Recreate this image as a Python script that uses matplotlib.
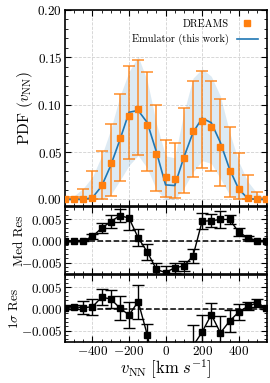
import numpy as np
import matplotlib
matplotlib.use('Agg')
import matplotlib.pyplot as plt
from matplotlib.ticker import MultipleLocator

# ---------------- data ----------------
v_nn = [-550, -500, -450, -400, -350, -300, -250, -200, -150, -100, -50, 0,
        50, 100, 150, 200, 250, 300, 350, 400, 450, 500, 550]

dreams = [0.0, 0.0003, 0.0005, 0.002, 0.015, 0.038, 0.0645, 0.0876, 0.096,
          0.0785, 0.048, 0.0235, 0.0217, 0.0438, 0.0725, 0.0823, 0.076,
          0.0557, 0.0305, 0.011, 0.002, 0.0005, 0.0]
dreams_lo = [0.0, 0.0, 0.0, 0.0, 0.0, 0.004, 0.020, 0.043, 0.047, 0.030,
             0.009, 0.0025, 0.002, 0.007, 0.0236, 0.033, 0.030, 0.014,
             0.0025, 0.0, 0.0, 0.0, 0.0]
dreams_hi = [0.0, 0.0025, 0.011, 0.0296, 0.0507, 0.080, 0.111, 0.1412, 0.147,
             0.135, 0.100, 0.063, 0.060, 0.097, 0.125, 0.136, 0.125, 0.106,
             0.077, 0.049, 0.026, 0.0077, 0.002]

emu_med = [0.0, 0.0, 0.0, 0.002, 0.014, 0.036, 0.063, 0.092, 0.094, 0.081,
           0.050, 0.0154, 0.0147, 0.0445, 0.0707, 0.0858, 0.081, 0.060,
           0.032, 0.011, 0.001, 0.0, 0.0]
emu_lo = [0.0, 0.0, 0.0, 0.0, 0.0, 0.005, 0.020, 0.036, 0.0465, 0.033,
          0.010, 0.0, 0.0, 0.012, 0.029, 0.041, 0.038, 0.022, 0.005, 0.0,
          0.0, 0.0, 0.0]
emu_hi = [0.001, 0.004, 0.012, 0.024, 0.046, 0.074, 0.109, 0.135, 0.151,
          0.125, 0.080, 0.046, 0.044, 0.092, 0.128, 0.138, 0.130, 0.109,
          0.071, 0.040, 0.019, 0.0066, 0.002]

med_res = [0.0, 0.0, 0.0, 0.001, 0.0029, 0.0044, 0.0058, 0.0052, 0.0007,
           -0.0026, -0.0066, -0.0073, -0.0062, -0.0058, -0.0035, 0.0045,
           0.0046, 0.0049, 0.0049, 0.002, 0.0007, 0.0, 0.0]
med_res_err = [0.0, 0.0, 0.0001, 0.0005, 0.0012, 0.0015, 0.0015, 0.0027,
               0.002, 0.0018, 0.0016, 0.0015, 0.0012, 0.0011, 0.0017, 0.0018,
               0.0015, 0.002, 0.0011, 0.001, 0.0003, 0.0001, 0.0]

sig_res = [0.0003, 0.0005, 0.0003, 0.0005, 0.0027, 0.0023, 0.0002, -0.0014,
           0.0017, -0.006, -0.016, -0.022, -0.022, -0.016, -0.0085, -0.0053,
           -0.0013, -0.0055, -0.0028, -0.0007, 0.0006, 0.0014, 0.0003]
sig_res_err = [0.0003, 0.0005, 0.0015, 0.0019, 0.0018, 0.002, 0.0027, 0.0029,
               0.0039, 0.0026, 0.003, 0.003, 0.003, 0.003, 0.0048, 0.004,
               0.0026, 0.0038, 0.0025, 0.0018, 0.0009, 0.001, 0.0003]

x_ticks = [-400, -200, 0, 200, 400]

# ---------------- style ----------------
plt.rcParams.update({
    'font.family': 'serif', 'font.serif': ['cmr10'],
    'mathtext.fontset': 'cm', 'axes.formatter.use_mathtext': True,
    'xtick.direction': 'in', 'ytick.direction': 'in',
    'xtick.top': True, 'ytick.right': True,
    'xtick.major.size': 4, 'ytick.major.size': 4,
    'xtick.minor.size': 2, 'ytick.minor.size': 2,
    'xtick.major.pad': 2, 'ytick.major.pad': 2,
    'axes.linewidth': 1.2,
    'xtick.labelsize': 9.5, 'ytick.labelsize': 9.5,
})

ORANGE = '#ff7f0e'
BLUE = '#1f77b4'

x = np.array(v_nn, dtype=float)
d = np.array(dreams)
fig = plt.figure(figsize=(2.70, 3.83), dpi=100)
gs = fig.add_gridspec(3, 1, height_ratios=[197, 67, 67], hspace=0.015,
                      left=0.241, right=0.989, top=0.974, bottom=0.107)
ax0 = fig.add_subplot(gs[0])
ax1 = fig.add_subplot(gs[1], sharex=ax0)
ax2 = fig.add_subplot(gs[2], sharex=ax0)

# main panel
ax0.fill_between(x, emu_lo, emu_hi, color=BLUE, alpha=0.15, lw=0, zorder=1)
ax0.errorbar(x, d, yerr=[d - np.array(dreams_lo), np.array(dreams_hi) - d],
             fmt='none', ecolor=ORANGE, alpha=0.75, elinewidth=1.3,
             capsize=4, capthick=1.3, zorder=2)
ax0.plot(x, d, 's', color=ORANGE, ms=5, zorder=4, label='DREAMS')
ax0.plot(x, emu_med, '-', color=BLUE, lw=1.2, zorder=3,
         label='Emulator (this work)')
ax0.set_ylim(-0.0065, 0.20)
ax0.set_ylabel(r'PDF $(v_{\rm NN})$', fontsize=11)
ax0.yaxis.set_label_coords(-0.15, 0.5)
ax0.yaxis.set_major_locator(MultipleLocator(0.05))
ax0.yaxis.set_minor_locator(MultipleLocator(0.01))
ax0.legend(loc='upper right', frameon=False, markerfirst=False,
           fontsize=7.5, handlelength=2.0, borderaxespad=0.5)

# residual panels
for ax, vals, errs, lab, lx in [(ax1, med_res, med_res_err, 'Med Res', -0.195),
                                (ax2, sig_res, sig_res_err, r'$1\sigma$ Res', -0.22)]:
    ax.axhline(0, color='k', ls='--', lw=1.1, zorder=1)
    ax.errorbar(x, vals, yerr=errs, fmt='s-', color='k', ms=4, lw=1.0,
                elinewidth=1.0, capsize=4, capthick=1.0, zorder=3)
    ax.set_ylim(-0.0076, 0.0077)
    ax.yaxis.set_major_locator(MultipleLocator(0.005))
    ax.yaxis.set_minor_locator(MultipleLocator(0.001))
    ax.set_ylabel(lab, fontsize=9.5)
    ax.yaxis.set_label_coords(lx, 0.5)

for ax in (ax0, ax1, ax2):
    ax.grid(True, which='major', ls='--', color='0.82', lw=0.6)
    ax.set_axisbelow(True)
    ax.xaxis.set_minor_locator(MultipleLocator(50))
    ax.set_xticks(x_ticks)
    ax.tick_params(which='both', top=True, right=True)

ax0.set_xlim(-550, 555)
plt.setp(ax0.get_xticklabels(), visible=False)
plt.setp(ax1.get_xticklabels(), visible=False)
ax2.set_xlabel(r'$v_{\rm NN}\;[{\rm km}\;s^{-1}]$', fontsize=12, labelpad=0)

fig.savefig('out.png', dpi=100)
